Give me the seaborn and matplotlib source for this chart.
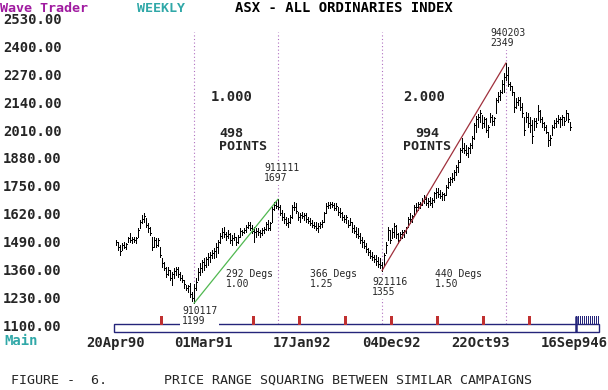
import matplotlib
matplotlib.use("Agg")
import matplotlib.pyplot as plt
import pandas as pd
import seaborn as sns
from matplotlib.patches import Rectangle

# weekly bars, ASX All Ordinaries, 20Apr90 onwards
high = [1502, 1494, 1478, 1486, 1494, 1489, 1518, 1534, 1515, 1515,
        1518, 1558, 1597, 1621, 1629, 1605, 1581, 1565, 1518, 1515,
        1510, 1510, 1470, 1414, 1398, 1374, 1374, 1358, 1350, 1366,
        1374, 1374, 1350, 1334, 1310, 1287, 1287, 1294, 1255, 1290,
        1319, 1366, 1390, 1406, 1414, 1422, 1438, 1446, 1454, 1462,
        1486, 1502, 1534, 1558, 1562, 1542, 1550, 1534, 1526, 1534,
        1518, 1526, 1558, 1550, 1558, 1574, 1590, 1590, 1574, 1566,
        1558, 1558, 1550, 1558, 1566, 1590, 1598, 1590, 1661, 1685,
        1690, 1697, 1669, 1645, 1629, 1613, 1605, 1621, 1669, 1685,
        1677, 1637, 1629, 1637, 1629, 1629, 1613, 1605, 1598, 1590,
        1590, 1582, 1590, 1598, 1637, 1677, 1685, 1685, 1685, 1677,
        1677, 1661, 1653, 1637, 1621, 1621, 1598, 1605, 1590, 1574,
        1566, 1558, 1534, 1518, 1502, 1486, 1462, 1454, 1446, 1430,
        1430, 1422, 1414, 1395, 1440, 1494, 1566, 1550, 1558, 1581,
        1573, 1534, 1542, 1550, 1550, 1565, 1613, 1629, 1621, 1669,
        1677, 1685, 1685, 1701, 1717, 1709, 1701, 1709, 1701, 1733,
        1749, 1749, 1741, 1733, 1725, 1765, 1797, 1805, 1820, 1836,
        1860, 1884, 1940, 1988, 1964, 1956, 1948, 1964, 2000, 2060,
        2095, 2105, 2125, 2100, 2092, 2084, 2052, 2108, 2100, 2092,
        2180, 2212, 2220, 2267, 2299, 2349, 2331, 2259, 2236, 2212,
        2180, 2188, 2188, 2156, 2092, 2116, 2108, 2092, 2076, 2084,
        2084, 2148, 2124, 2092, 2068, 2052, 2020, 2004, 2052, 2076,
        2084, 2100, 2092, 2100, 2092, 2124, 2108, 2068]
low = [1478, 1454, 1430, 1454, 1462, 1457, 1494, 1494, 1489, 1494,
       1489, 1518, 1558, 1581, 1589, 1565, 1542, 1526, 1454, 1470,
       1470, 1473, 1422, 1374, 1358, 1326, 1334, 1310, 1287, 1318,
       1334, 1326, 1310, 1302, 1271, 1263, 1255, 1231, 1210, 1199,
       1263, 1311, 1335, 1350, 1358, 1374, 1382, 1398, 1414, 1414,
       1422, 1438, 1486, 1510, 1518, 1502, 1510, 1486, 1478, 1502,
       1478, 1486, 1518, 1526, 1534, 1542, 1558, 1550, 1534, 1494,
       1518, 1526, 1518, 1526, 1534, 1550, 1550, 1550, 1590, 1645,
       1653, 1650, 1621, 1598, 1582, 1574, 1566, 1582, 1606, 1645,
       1629, 1598, 1590, 1606, 1598, 1590, 1582, 1574, 1566, 1558,
       1550, 1542, 1558, 1566, 1590, 1629, 1653, 1653, 1661, 1645,
       1645, 1621, 1613, 1598, 1590, 1582, 1566, 1574, 1542, 1534,
       1518, 1510, 1486, 1470, 1462, 1446, 1430, 1414, 1406, 1398,
       1382, 1374, 1366, 1355, 1380, 1438, 1502, 1486, 1510, 1518,
       1510, 1486, 1502, 1510, 1518, 1534, 1565, 1581, 1589, 1621,
       1637, 1645, 1653, 1669, 1677, 1669, 1661, 1669, 1661, 1685,
       1701, 1709, 1701, 1693, 1693, 1717, 1749, 1765, 1781, 1789,
       1812, 1828, 1876, 1924, 1916, 1908, 1900, 1916, 1940, 1985,
       2020, 2044, 2064, 2036, 2044, 2020, 1996, 2068, 2052, 2052,
       2108, 2164, 2172, 2204, 2212, 2267, 2236, 2220, 2196, 2116,
       2132, 2148, 2124, 2092, 2004, 2068, 2044, 2020, 1965, 2028,
       2044, 2076, 2068, 2044, 2028, 2012, 1949, 1957, 2004, 2036,
       2044, 2060, 2044, 2052, 2052, 2076, 2068, 2028]
close = [1490, 1470, 1450, 1478, 1470, 1485, 1510, 1500, 1505, 1500,
         1512, 1550, 1590, 1600, 1615, 1575, 1560, 1535, 1470, 1500,
         1480, 1500, 1430, 1390, 1370, 1340, 1360, 1320, 1340, 1355,
         1365, 1340, 1320, 1310, 1290, 1270, 1280, 1245, 1225, 1270,
         1300, 1350, 1370, 1395, 1380, 1410, 1420, 1430, 1440, 1450,
         1470, 1490, 1520, 1540, 1530, 1520, 1530, 1500, 1510, 1515,
         1490, 1515, 1545, 1540, 1550, 1565, 1575, 1560, 1545, 1540,
         1545, 1540, 1535, 1550, 1555, 1580, 1560, 1585, 1650, 1670,
         1665, 1660, 1630, 1610, 1600, 1585, 1590, 1610, 1660, 1660,
         1640, 1610, 1620, 1615, 1620, 1600, 1595, 1585, 1575, 1570,
         1560, 1570, 1580, 1590, 1630, 1665, 1670, 1675, 1670, 1655,
         1665, 1635, 1630, 1610, 1600, 1610, 1575, 1590, 1560, 1545,
         1530, 1520, 1500, 1490, 1475, 1460, 1445, 1425, 1420, 1410,
         1400, 1385, 1380, 1370, 1430, 1480, 1550, 1500, 1540, 1570,
         1530, 1500, 1530, 1540, 1545, 1560, 1600, 1600, 1615, 1660,
         1660, 1675, 1670, 1690, 1700, 1680, 1690, 1680, 1695, 1725,
         1730, 1720, 1710, 1720, 1715, 1755, 1780, 1795, 1800, 1825,
         1850, 1875, 1930, 1940, 1930, 1920, 1940, 1955, 1990, 2050,
         2080, 2090, 2110, 2060, 2080, 2030, 2040, 2090, 2070, 2085,
         2170, 2190, 2210, 2250, 2280, 2290, 2250, 2240, 2210, 2140,
         2160, 2170, 2140, 2110, 2030, 2090, 2060, 2050, 2000, 2070,
         2060, 2120, 2080, 2060, 2040, 2020, 1980, 1990, 2040, 2060,
         2070, 2080, 2080, 2090, 2070, 2110, 2080, 2040]

# turning points of the two campaigns
pivot_week = [39, 81, 133, 195]
pivot_date = ["910117", "911111", "921116", "940203"]
pivot_price = [1199, 1697, 1355, 2349]

price_ticks = [2530, 2400, 2270, 2140, 2010, 1880, 1750, 1620, 1490, 1360, 1230, 1100]
date_labels = ["20Apr90", "01Mar91", "17Jan92", "04Dec92", "22Oct93", "16Sep946"]
date_weeks = [0, 43.5, 93, 137.5, 182.5, 229]

degs_text = ["292 Degs\n1.00", "366 Degs\n1.25", "440 Degs\n1.50"]

W, H = 608, 390
PT_PER_PX = 4.783


def to_data(x, y):
    # pixel position of the original screen -> week / price
    return (x - 116) / 2.0, 1100 + (324 - y) * PT_PER_PX


sns.set_style("white")
plt.rcParams["font.family"] = ["DejaVu Sans Mono"]

fig = plt.figure(figsize=(W / 100, H / 100), dpi=100)
ax = fig.add_axes([66 / W, 1 - 335 / H, 538 / W, 330 / H])
x0, y0 = to_data(66, 335)
x1, y1 = to_data(604, 5)
ax.set_xlim(x0, x1)
ax.set_ylim(y0, y1)
for s in ax.spines.values():
    s.set_visible(False)

weeks = list(range(len(high)))
bars = pd.DataFrame({"week": weeks, "high": high, "low": low, "close": close})

# high-low bars with close tick
ax.vlines(bars["week"], bars["low"], bars["high"], color="black", lw=0.72,
          antialiased=False, zorder=3)
ax.hlines(bars["close"], bars["week"], bars["week"] + 0.45, color="black",
          lw=0.72, antialiased=False, zorder=3)

# squaring lines
lines = pd.DataFrame({"week": pivot_week, "price": pivot_price,
                      "leg": ["a", "a", "b", "b"]})
sns.lineplot(data=lines, x="week", y="price", hue="leg",
             palette=["#50b850", "#a0303c"], lw=0.9, legend=False, ax=ax,
             zorder=4)
ax.set_xlabel("")
ax.set_ylabel("")

# dotted verticals at the turning points
top = to_data(0, 32)[1]
ax.vlines(pivot_week, 1100, top, color="#b070c0", lw=0.8,
          linestyles=(0, (1, 2.2)), zorder=2)

# pivot labels with white background
label_px = [(182, 316), (264, 173), (372, 287), (490, 38)]
for (px, py), d, p in zip(label_px, pivot_date, pivot_price):
    ax.text(*to_data(px, py), f"{d}\n{p}", fontsize=7, ha="left", va="center",
            linespacing=0.95, zorder=6,
            bbox=dict(facecolor="white", edgecolor="none", pad=1.5))

# campaign annotations
ax.text(*to_data(211, 97.5), "1.000", fontsize=10, fontweight="bold", va="center")
ax.text(*to_data(219, 140), "498\nPOINTS", fontsize=9.6, fontweight="bold",
        va="center", ha="left", linespacing=0.95)
ax.text(*to_data(403, 97.5), "2.000", fontsize=10, fontweight="bold", va="center")
ax.text(*to_data(427, 140), "994\nPOINTS", fontsize=9.6, fontweight="bold",
        va="center", ha="center", linespacing=0.95, multialignment="center")
for px, t in zip([226, 310, 435], degs_text):
    ax.text(*to_data(px, 279), t, fontsize=7, va="center", ha="left",
            linespacing=0.95, zorder=5)

# time scroll box under the chart
bx0 = to_data(114, 0)[0]
bx1 = to_data(599, 0)[0]
yb_top = 1100
yb_bot = to_data(0, 332)[1]
ax.add_patch(Rectangle((bx0, yb_bot), bx1 - bx0, yb_top - yb_bot, fill=False,
                       edgecolor="#24247a", lw=1.0, zorder=2, clip_on=False))
tick_top = to_data(0, 316)[1]
ax.vlines([22.5, 45.5, 68.5, 91.5, 114.5, 137.5, 160.5, 183.5, 206.5], 1100,
          tick_top, color="#c03030", lw=0.9, antialiased=False, zorder=2)
ax.vlines([w + 0.0 for w in range(230, 242)], 1100, tick_top, color="#24247a",
          lw=0.7, antialiased=False, zorder=2)
ax.vlines([230], yb_bot, tick_top, color="#24247a", lw=1.8, zorder=2)

# price labels sit on the text rows of the original screen
ax.set_yticks([to_data(0, 20 + 27.9 * i)[1] for i in range(len(price_ticks))])
ax.set_yticklabels([f"{v:.2f}" for v in price_ticks], fontsize=10,
                   fontweight="bold", va="center")
ax.set_xticks(date_weeks)
ax.set_xticklabels(date_labels, fontsize=10, fontweight="bold")
ax.tick_params(axis="y", length=0, pad=3)
ax.tick_params(axis="x", length=0, pad=0.5)

# header / footer
fig.text(0 / W, 1 - 8 / H, "Wave Trader", color="#a01aa0", fontsize=9.6,
         fontweight="bold", va="center")
fig.text(137 / W, 1 - 8 / H, "WEEKLY", color="#30a8a8", fontsize=9.6,
         fontweight="bold", va="center")
fig.text(235 / W, 1 - 8 / H, "ASX - ALL ORDINARIES INDEX", color="black",
         fontsize=10, fontweight="bold", va="center")
fig.text(4 / W, 1 - 341 / H, "Main", color="#30a8a8", fontsize=10,
         fontweight="bold", va="center")
fig.text(11 / W, 1 - 380 / H, "FIGURE -  6.", fontsize=9.6, va="center")
fig.text(164 / W, 1 - 380 / H, "PRICE RANGE SQUARING BETWEEN SIMILAR CAMPAIGNS",
         fontsize=9.6, va="center")

fig.savefig("out.png", dpi=100)
